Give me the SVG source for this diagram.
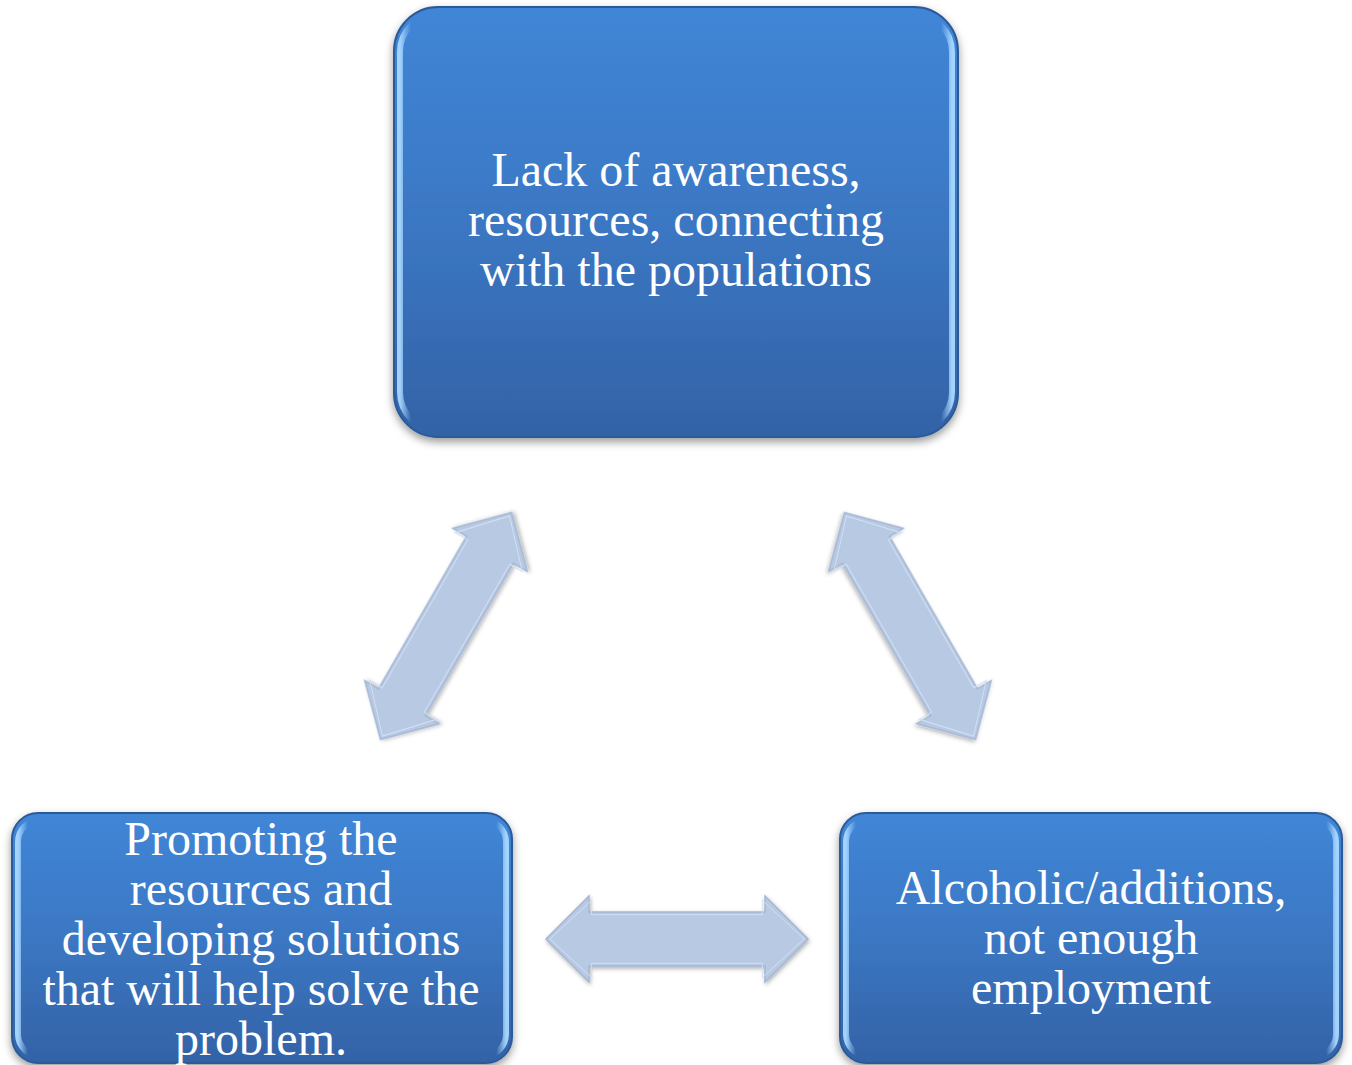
<svg xmlns="http://www.w3.org/2000/svg" width="1352" height="1065" viewBox="0 0 1352 1065">
  <defs>
    <linearGradient id="boxFill" x1="0" y1="0" x2="0" y2="1">
      <stop offset="0" stop-color="#4086d7"/>
      <stop offset="0.5" stop-color="#3b77c3"/>
      <stop offset="1" stop-color="#3362a6"/>
    </linearGradient>
    <linearGradient id="edgeGlow" x1="0" y1="0" x2="1" y2="0">
      <stop offset="0" stop-color="#a8d8ff" stop-opacity="0.95"/>
      <stop offset="0.02" stop-color="#a8d8ff" stop-opacity="0"/>
      <stop offset="0.98" stop-color="#a8d8ff" stop-opacity="0"/>
      <stop offset="1" stop-color="#a8d8ff" stop-opacity="0.95"/>
    </linearGradient>
    <filter id="boxShadow" x="-10%" y="-10%" width="120%" height="125%">
      <feDropShadow dx="0" dy="4" stdDeviation="4" flood-color="#000" flood-opacity="0.4"/>
    </filter>
    <filter id="arrowShadow" x="-20%" y="-20%" width="140%" height="140%">
      <feDropShadow dx="1" dy="2" stdDeviation="2" flood-color="#000" flood-opacity="0.3"/>
    </filter>
    <!-- double-headed block arrow, centred on the origin, pointing along x -->
    <path id="dblArrow" d="M -131 0 L -88 -43 L -88 -27 L 88 -27 L 88 -43 L 131 0 L 88 43 L 88 27 L -88 27 L -88 43 Z"/>
  </defs>
  <style>
    .box { fill: url(#boxFill); stroke: #2c5a98; stroke-width: 2; filter: url(#boxShadow); }
    .glow { fill: none; stroke: url(#edgeGlow); stroke-width: 6; }
    .label { font-family: "Liberation Serif", "Times New Roman", serif; font-size: 48px; fill: #ffffff; text-anchor: middle; }
    .arrow { fill: #b8c9e4; stroke: #a3b6d4; stroke-width: 1.5; filter: url(#arrowShadow); }
    .arrowEdge { fill: none; stroke: #d3e0f2; stroke-width: 1; }
  </style>

  <rect width="1352" height="1065" fill="#ffffff"/>

  <g id="connectors">
    <g transform="translate(446,626) rotate(-60)">
      <use href="#dblArrow" class="arrow"/>
      <use href="#dblArrow" class="arrowEdge" transform="scale(0.97,0.9)"/>
    </g>
    <g transform="translate(910,626) rotate(60)">
      <use href="#dblArrow" class="arrow"/>
      <use href="#dblArrow" class="arrowEdge" transform="scale(0.97,0.9)"/>
    </g>
    <g transform="translate(677,939)">
      <use href="#dblArrow" class="arrow"/>
      <use href="#dblArrow" class="arrowEdge" transform="scale(0.97,0.9)"/>
    </g>
  </g>

  <g id="node-awareness">
    <rect class="box" x="394" y="7" width="564" height="430" rx="44" ry="44"/>
    <rect class="glow" x="400" y="14" width="552" height="416" rx="38" ry="38"/>
    <text class="label" x="676" y="186">Lack of awareness,</text>
    <text class="label" x="676" y="236">resources, connecting</text>
    <text class="label" x="676" y="286">with the populations</text>
  </g>

  <g id="node-solutions">
    <rect class="box" x="12" y="813" width="500" height="250" rx="26" ry="26"/>
    <rect class="glow" x="18" y="820" width="488" height="236" rx="22" ry="22"/>
    <text class="label" x="261" y="855">Promoting the</text>
    <text class="label" x="261" y="905">resources and</text>
    <text class="label" x="261" y="955">developing solutions</text>
    <text class="label" x="261" y="1005">that will help solve the</text>
    <text class="label" x="261" y="1055">problem.</text>
  </g>

  <g id="node-employment">
    <rect class="box" x="840" y="813" width="502" height="250" rx="26" ry="26"/>
    <rect class="glow" x="846" y="820" width="490" height="236" rx="22" ry="22"/>
    <text class="label" x="1091" y="904">Alcoholic/additions,</text>
    <text class="label" x="1091" y="954">not enough</text>
    <text class="label" x="1091" y="1004">employment</text>
  </g>
</svg>
